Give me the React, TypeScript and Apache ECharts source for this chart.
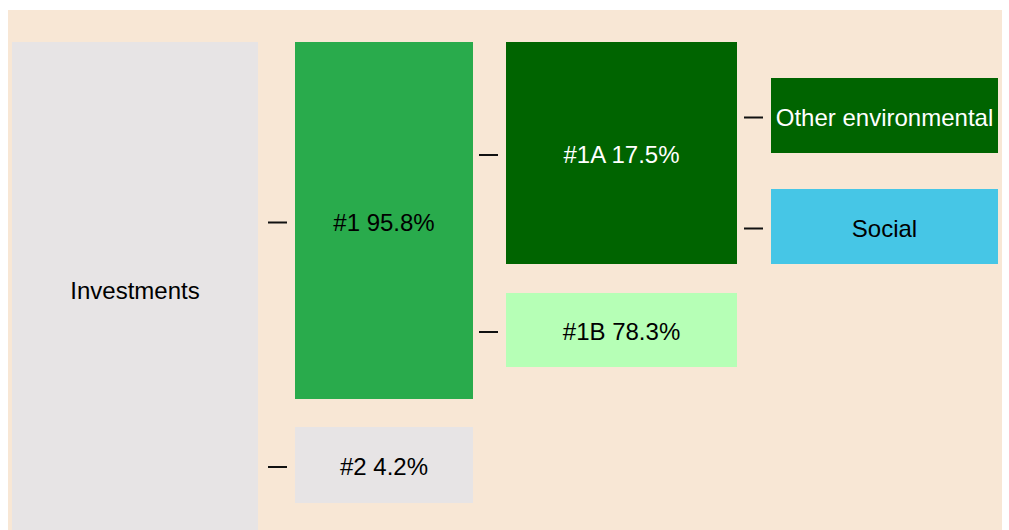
import React, { useEffect, useRef } from "react";
import * as echarts from "echarts";

// ---- data ----
const nodeLabels = ["Investments", "#1", "#2", "#1A", "#1B", "Other environmental", "Social"];
const nodeValues: (number | null)[] = [null, 95.8, 4.2, 17.5, 78.3, null, null];
const nodeParents = [-1, 0, 0, 1, 1, 3, 3];
const nodeLevels = [0, 1, 1, 2, 2, 3, 3];

// ---- layout (diagram units) ----
const columnLeft = [12, 295, 506, 771];
const columnRight = [258, 473, 737, 998];
const nodeTop = [42, 42, 427, 42, 293, 78, 189];
const nodeBottom = [536, 399, 503, 264, 367, 153, 264];

// ---- styles ----
const nodeFill = ["#E7E4E5", "#29AB4C", "#E7E4E5", "#006400", "#B6FFB6", "#006400", "#46C6E6"];
const nodeTextColor = ["#000", "#000", "#000", "#fff", "#000", "#fff", "#000"];
const FONT = "'Liberation Sans', Arial, Helvetica, sans-serif";

export default function App() {
  const ref = useRef<HTMLDivElement>(null);
  useEffect(() => {
    if (!ref.current) return;
    const chart = echarts.init(ref.current, undefined, { renderer: "svg" });
    chart.setOption({
      animation: false,
      grid: { left: 0, right: 0, top: 0, bottom: 0 },
      xAxis: { type: "value", min: 0, max: 1009, show: false },
      yAxis: { type: "value", min: 0, max: 530, inverse: true, show: false },
      graphic: [
        {
          type: "rect",
          z: 0,
          shape: { x: 8, y: 10, width: 994, height: 530 },
          style: { fill: "#F8E7D5" },
        },
      ],
      series: [
        {
          type: "custom",
          z: 5,
          data: nodeLabels.map((_, i) => [i]),
          renderItem: (params: any, api: any) => {
            const i = params.dataIndex;
            const lvl = nodeLevels[i];
            const p0 = api.coord([columnLeft[lvl], nodeTop[i]]);
            const p1 = api.coord([columnRight[lvl], nodeBottom[i]]);
            const cx = (p0[0] + p1[0]) / 2;
            const cy = (p0[1] + p1[1]) / 2;
            const v = nodeValues[i];
            const text = v != null ? `${nodeLabels[i]} ${v}%` : nodeLabels[i];
            const children: any[] = [
              {
                type: "rect",
                shape: { x: p0[0], y: p0[1], width: p1[0] - p0[0], height: p1[1] - p0[1] },
                style: { fill: nodeFill[i] },
              },
              {
                type: "text",
                x: cx,
                y: cy + 1.5,
                style: {
                  text,
                  fill: nodeTextColor[i],
                  font: `24px ${FONT}`,
                  align: "center",
                  verticalAlign: "middle",
                },
              },
            ];
            if (nodeParents[i] >= 0) {
              children.push({
                type: "line",
                shape: { x1: p0[0] - 27, y1: cy + 2, x2: p0[0] - 8, y2: cy + 2 },
                style: { stroke: "#111", lineWidth: 2 },
              });
            }
            return { type: "group", children };
          },
        },
      ],
    });
    return () => chart.dispose();
  }, []);
  return (
    <div
      ref={ref}
      style={{ position: "absolute", left: 0, top: 0, width: 1009, height: 530 }}
    />
  );
}
